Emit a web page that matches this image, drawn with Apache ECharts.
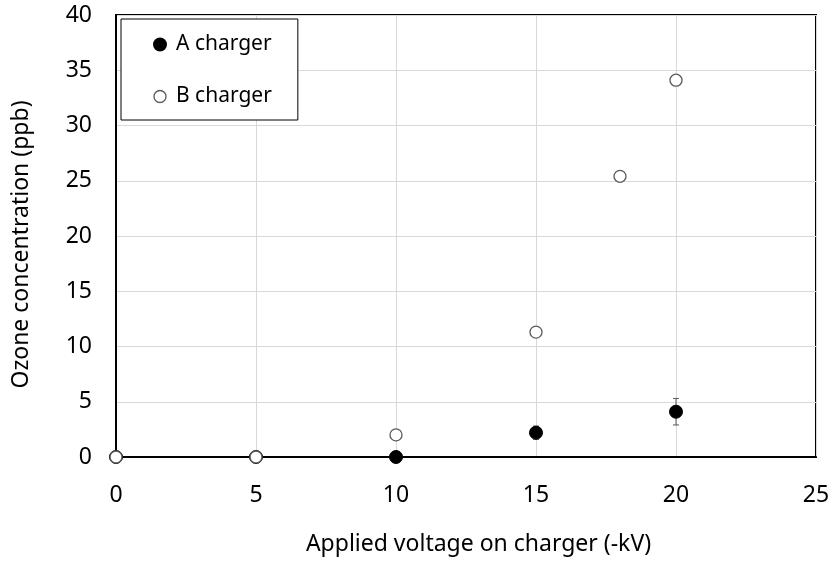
<!DOCTYPE html>
<html>
<head>
<meta charset="utf-8">
<script src="https://cdn.jsdelivr.net/npm/echarts@6/dist/echarts.min.js"></script>
<style>html,body{margin:0;padding:0;background:#fff}#c{width:835px;height:561px}</style>
</head>
<body>
<div id="c"></div>
<script>
const voltageA = [0, 5, 10, 15, 20];
const ozoneA = [0, 0, 0, 2.2, 4.1];
const errA = [0, 0, 0, 0.6, 1.2];
const voltageB = [0, 5, 10, 15, 18, 20];
const ozoneB = [0, 0, 2.0, 11.3, 25.4, 34.1];
const xTicks = [0, 5, 10, 15, 20, 25];
const yTicks = [0, 5, 10, 15, 20, 25, 30, 35, 40];

const FONT = 'Noto Sans';
const chart = echarts.init(document.getElementById('c'));
const errData = voltageA.map((x, i) => [x, ozoneA[i] - errA[i], ozoneA[i] + errA[i]]).filter(d => d[2] > d[1]);

chart.setOption({
  animation: false,
  backgroundColor: '#fff',
  textStyle: { fontFamily: FONT },
  grid: { left: 116, right: 19, top: 15, bottom: 100, show: true, borderColor: '#000', borderWidth: 2, containLabel: false },
  legend: {
    orient: 'vertical', left: 121, top: 19,
    backgroundColor: '#fff',
    borderColor: '#000', borderWidth: 1,
    padding: [15, 26, 13, 32],
    itemGap: 31, itemWidth: 12, itemHeight: 12,
    textStyle: { fontFamily: FONT, fontSize: 21, color: '#000', padding: [0, 0, 0, 5] },
    data: [
      { name: 'A charger', itemStyle: { color: '#000', borderColor: '#000', opacity: 1 } },
      { name: 'B charger', itemStyle: { color: '#fff', borderColor: '#595959', borderWidth: 1.3, opacity: 1 } }
    ]
  },
  xAxis: {
    type: 'value', min: 0, max: 25, interval: 5,
    name: 'Applied voltage on charger (-kV)', nameLocation: 'middle', nameGap: 76,
    nameTextStyle: { fontFamily: FONT, fontSize: 23, color: '#000', padding: [0, 0, 0, 25] },
    axisLine: { show: true, onZero: false, lineStyle: { color: '#000', width: 2 } },
    axisTick: { show: false },
    axisLabel: { fontFamily: FONT, fontSize: 23, color: '#000', margin: 27, formatter: v => xTicks.includes(v) ? String(v) : '' },
    splitLine: { show: true, lineStyle: { color: '#d9d9d9', width: 1 } }
  },
  yAxis: {
    type: 'value', min: 0, max: 40, interval: 5,
    name: 'Ozone concentration (ppb)', nameLocation: 'middle', nameGap: 83,
    nameTextStyle: { fontFamily: FONT, fontSize: 23, color: '#000', padding: [0, 17, 0, 0] },
    axisLine: { show: true, lineStyle: { color: '#000', width: 2 } },
    axisTick: { show: false },
    axisLabel: { fontFamily: FONT, fontSize: 23, color: '#000', margin: 24, formatter: v => yTicks.includes(v) ? String(v) : '' },
    splitLine: { show: true, lineStyle: { color: '#d9d9d9', width: 1 } }
  },
  series: [
    {
      type: 'custom', name: 'errA', silent: true, z: 3,
      data: errData,
      renderItem: (params, api) => {
        const x = api.value(0);
        const lo = api.coord([x, api.value(1)]);
        const hi = api.coord([x, api.value(2)]);
        const w = 3;
        const st = { stroke: '#595959', lineWidth: 1 };
        return { type: 'group', children: [
          { type: 'line', shape: { x1: lo[0], y1: lo[1], x2: hi[0], y2: hi[1] }, style: st },
          { type: 'line', shape: { x1: lo[0] - w, y1: lo[1], x2: lo[0] + w, y2: lo[1] }, style: st },
          { type: 'line', shape: { x1: hi[0] - w, y1: hi[1], x2: hi[0] + w, y2: hi[1] }, style: st }
        ]};
      }
    },
    {
      type: 'scatter', name: 'A charger', z: 4,
      symbol: 'circle', symbolSize: 13,
      itemStyle: { color: '#000', borderColor: '#000', borderWidth: 1, opacity: 1 },
      data: voltageA.map((x, i) => [x, ozoneA[i]])
    },
    {
      type: 'scatter', name: 'B charger', z: 5,
      symbol: 'circle', symbolSize: 12,
      itemStyle: { color: '#fff', borderColor: '#595959', borderWidth: 1.3, opacity: 1 },
      data: voltageB.map((x, i) => [x, ozoneB[i]])
    }
  ]
});
</script>
</body>
</html>
